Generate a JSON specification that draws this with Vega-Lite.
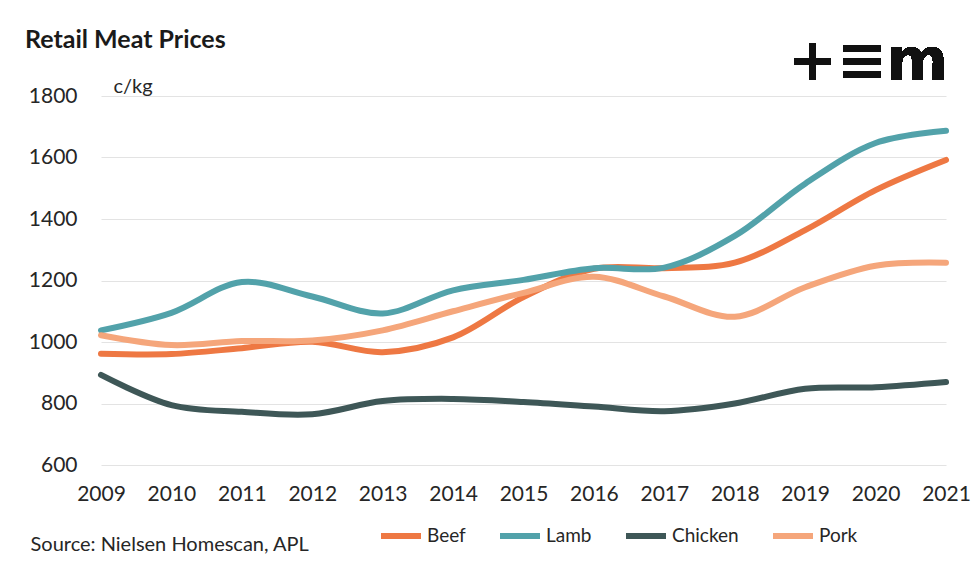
{
  "$schema": "https://vega.github.io/schema/vega-lite/v6.json",
  "width": 845,
  "height": 369,
  "autosize": {"type": "none"},
  "padding": {"left": 101, "top": 96, "right": 28, "bottom": 96},
  "background": "white",
  "config": {
    "view": {"stroke": null},
    "font": "Lato",
    "axis": {"labelFont": "Lato", "titleFont": "Lato", "labelColor": "#262626", "titleColor": "#262626"}
  },
  "title": {
    "text": "Retail Meat Prices",
    "anchor": "start",
    "frame": "group",
    "dx": -76,
    "dy": 20,
    "offset": 0,
    "fontSize": 25,
    "font": "Lato",
    "fontWeight": "bold",
    "color": "#1a1a1a"
  },
  "data": {
    "values": [
      {"year": 2009, "meat": "Beef", "price": 962},
      {"year": 2010, "meat": "Beef", "price": 961},
      {"year": 2011, "meat": "Beef", "price": 980},
      {"year": 2012, "meat": "Beef", "price": 1001},
      {"year": 2013, "meat": "Beef", "price": 967},
      {"year": 2014, "meat": "Beef", "price": 1015},
      {"year": 2015, "meat": "Beef", "price": 1146},
      {"year": 2016, "meat": "Beef", "price": 1238},
      {"year": 2017, "meat": "Beef", "price": 1240},
      {"year": 2018, "meat": "Beef", "price": 1258},
      {"year": 2019, "meat": "Beef", "price": 1364},
      {"year": 2020, "meat": "Beef", "price": 1494},
      {"year": 2021, "meat": "Beef", "price": 1592},
      {"year": 2009, "meat": "Lamb", "price": 1038},
      {"year": 2010, "meat": "Lamb", "price": 1095},
      {"year": 2011, "meat": "Lamb", "price": 1195},
      {"year": 2012, "meat": "Lamb", "price": 1148},
      {"year": 2013, "meat": "Lamb", "price": 1093},
      {"year": 2014, "meat": "Lamb", "price": 1168},
      {"year": 2015, "meat": "Lamb", "price": 1202},
      {"year": 2016, "meat": "Lamb", "price": 1240},
      {"year": 2017, "meat": "Lamb", "price": 1242},
      {"year": 2018, "meat": "Lamb", "price": 1345},
      {"year": 2019, "meat": "Lamb", "price": 1515},
      {"year": 2020, "meat": "Lamb", "price": 1647},
      {"year": 2021, "meat": "Lamb", "price": 1687},
      {"year": 2009, "meat": "Chicken", "price": 893},
      {"year": 2010, "meat": "Chicken", "price": 795},
      {"year": 2011, "meat": "Chicken", "price": 773},
      {"year": 2012, "meat": "Chicken", "price": 765},
      {"year": 2013, "meat": "Chicken", "price": 808},
      {"year": 2014, "meat": "Chicken", "price": 815},
      {"year": 2015, "meat": "Chicken", "price": 805},
      {"year": 2016, "meat": "Chicken", "price": 790},
      {"year": 2017, "meat": "Chicken", "price": 775},
      {"year": 2018, "meat": "Chicken", "price": 800},
      {"year": 2019, "meat": "Chicken", "price": 848},
      {"year": 2020, "meat": "Chicken", "price": 853},
      {"year": 2021, "meat": "Chicken", "price": 870},
      {"year": 2009, "meat": "Pork", "price": 1022},
      {"year": 2010, "meat": "Pork", "price": 990},
      {"year": 2011, "meat": "Pork", "price": 1003},
      {"year": 2012, "meat": "Pork", "price": 1005},
      {"year": 2013, "meat": "Pork", "price": 1038},
      {"year": 2014, "meat": "Pork", "price": 1100},
      {"year": 2015, "meat": "Pork", "price": 1160},
      {"year": 2016, "meat": "Pork", "price": 1212},
      {"year": 2017, "meat": "Pork", "price": 1148},
      {"year": 2018, "meat": "Pork", "price": 1082},
      {"year": 2019, "meat": "Pork", "price": 1178},
      {"year": 2020, "meat": "Pork", "price": 1248},
      {"year": 2021, "meat": "Pork", "price": 1258}
    ]
  },
  "layer": [
    {
      "mark": {"type": "line", "strokeWidth": 6, "interpolate": "catmull-rom", "strokeCap": "round"},
      "encoding": {
        "x": {
          "field": "year", "type": "quantitative",
          "scale": {"domain": [2009, 2021], "nice": false, "zero": false},
          "axis": {
            "values": [2009, 2010, 2011, 2012, 2013, 2014, 2015, 2016, 2017, 2018, 2019, 2020, 2021],
            "format": "d", "grid": false, "domain": false, "ticks": false,
            "labelFontSize": 21, "labelPadding": 18, "labelFlush": false,
            "title": "Source: Nielsen Homescan, APL",
            "titleFontSize": 20, "titleFontWeight": "normal",
            "titleX": -71, "titleY": 85, "titleAlign": "left", "titleBaseline": "alphabetic", "titleAnchor": null
          }
        },
        "y": {
          "field": "price", "type": "quantitative",
          "scale": {"domain": [600, 1800], "nice": false, "zero": false},
          "axis": {
            "values": [600, 800, 1000, 1200, 1400, 1600, 1800],
            "format": "d",
            "grid": true, "gridColor": "#e3e3e3", "gridWidth": 1.2,
            "domain": false, "ticks": false,
            "labelFontSize": 21, "labelPadding": 24,
            "title": "c/kg", "titleFontSize": 20, "titleFontWeight": "normal",
            "titleAngle": 0, "titleX": 12, "titleY": -4, "titleAlign": "left", "titleBaseline": "alphabetic"
          }
        },
        "color": {
          "field": "meat", "type": "nominal",
          "scale": {"domain": ["Beef", "Lamb", "Chicken", "Pork"], "range": ["#EE7843", "#52A2AA", "#3E5757", "#F5A67B"]},
          "legend": {
            "title": null, "orient": "none", "direction": "horizontal",
            "legendX": 277, "legendY": 417,
            "symbolType": "stroke", "symbolSize": 1600, "symbolStrokeWidth": 6,
            "labelFontSize": 19, "labelFont": "Lato", "labelColor": "#262626", "labelOffset": 3,
            "columnPadding": 22
          }
        }
      }
    },
    {
      "mark": {"type": "text", "text": "+≡m", "font": "DejaVu Sans", "fontWeight": "bold", "fontSize": 59, "align": "right", "baseline": "alphabetic", "dy": -16, "dx": 2, "color": "#111111"},
      "encoding": {
        "x": {"datum": 2021},
        "y": {"datum": 1800}
      }
    }
  ]
}
